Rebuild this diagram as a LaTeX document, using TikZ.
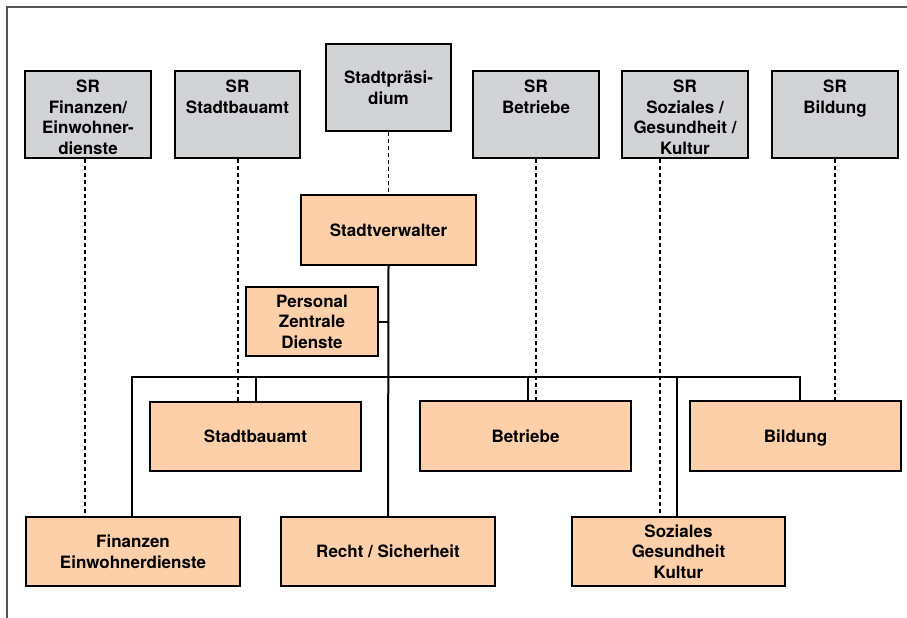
\documentclass[tikz,border=0pt]{standalone}
\usepackage{fontspec}
\setmainfont{TeX Gyre Heros}
\definecolor{srgray}{HTML}{D2D3D5}
\definecolor{peach}{HTML}{FDD0AA}
\definecolor{framegray}{HTML}{555555}
\newcommand{\toptext}[3]{\parbox[c][#2][t]{#1}{\centering\vspace*{9pt}#3\par}}
\begin{document}
\begin{tikzpicture}[x=1pt,y=-1pt,
  every node/.style={font=\fontsize{17}{20.6}\selectfont\bfseries},
  boxbase/.style={draw=black, line width=2pt, rectangle, inner sep=0pt, align=center},
  srbox/.style={boxbase, fill=srgray},
  unitbox/.style={boxbase, fill=peach},
  solidline/.style={line width=2pt, black},
  dashline/.style={line width=1.8pt, black, dash pattern=on 4pt off 3pt},
  frameline/.style={line width=1.5pt, framegray}]
\useasboundingbox (0,0) rectangle (907,618);
% frame
\coordinate (fTL) at (7,7);
\coordinate (fTR) at (907,7);
\coordinate (fBL) at (7,618);
\draw[frameline] (fTR) -- (fTL) -- (fBL);
% SR boxes (top aligned text)
\node[srbox] (srfin) at (88,114.5) {\toptext{126pt}{87pt}{SR\\Finanzen/\\Einwohner-\\dienste}};
\node[srbox] (srbau) at (237.5,114.5) {\toptext{125pt}{87pt}{SR\\Stadtbauamt}};
\node[srbox, minimum width=125.5pt, minimum height=87pt] (praes) at (388.5,87.5) {Stadtpräsi-\\dium};
\node[srbox] (srbet) at (536,114.5) {\toptext{126pt}{87pt}{SR\\Betriebe}};
\node[srbox] (srsoz) at (685,114.5) {\toptext{126pt}{87pt}{SR\\Soziales /\\Gesundheit /\\Kultur}};
\node[srbox] (srbil) at (835,114.5) {\toptext{126pt}{87pt}{SR\\Bildung}};
% units
\node[unitbox, minimum width=175pt, minimum height=70pt] (verw) at (388.5,230) {Stadtverwalter};
\node[unitbox, minimum width=132pt, minimum height=69pt] (pers) at (312,321.5) {Personal\\Zentrale\\Dienste};
\node[unitbox, minimum width=211pt, minimum height=69.5pt, text depth=0pt] (bau) at (255.5,436.5) {Stadtbauamt};
\node[unitbox, minimum width=211pt, minimum height=70pt, text depth=0pt] (bet) at (525.5,436) {Betriebe};
\node[unitbox, minimum width=211pt, minimum height=70pt, text depth=0pt] (bil) at (795.5,436) {Bildung};
\node[unitbox, minimum width=214pt, minimum height=69.5pt] (fin) at (133,551.5) {Finanzen\\Einwohnerdienste};
\node[unitbox, minimum width=214pt, minimum height=69.5pt, text depth=0pt] (recht) at (388,551.5) {Recht / Sicherheit};
\node[unitbox, minimum width=213pt, minimum height=69.5pt] (soz) at (678.5,551.5) {Soziales\\Gesundheit\\Kultur};
% dashed links
\draw[dashline] ([xshift=-3pt]srfin.south) -- ([xshift=-3pt]srfin.south |- fin.north);
\draw[dashline] ([xshift=0.5pt]srbau.south) -- ([xshift=0.5pt]srbau.south |- bau.north);
\draw[dashline] (praes.south) -- (praes.south |- verw.north);
\draw[dashline] (srbet.south) -- (srbet.south |- bet.north);
\draw[dashline] ([xshift=-25pt]srsoz.south) -- ([xshift=-25pt]srsoz.south |- soz.north);
\draw[dashline] (srbil.south) -- (srbil.south |- bil.north);
% solid hierarchy
\coordinate (busy) at (0,377);
\draw[solidline] (verw.south) -- (recht.north);
\draw[solidline] (pers.east) -- (pers.east -| verw.south);
\draw[solidline] ([xshift=-1pt]fin.north) |- ([xshift=4.5pt]bil.north |- busy) -- ([xshift=4.5pt]bil.north);
\draw[solidline] (bau.north) -- (bau.north |- busy);
\draw[solidline] ([xshift=2.5pt]bet.north) -- ([xshift=2.5pt]bet.north |- busy);
\draw[solidline] ([xshift=-1.5pt]soz.north) -- ([xshift=-1.5pt]soz.north |- busy);
\end{tikzpicture}
\end{document}
